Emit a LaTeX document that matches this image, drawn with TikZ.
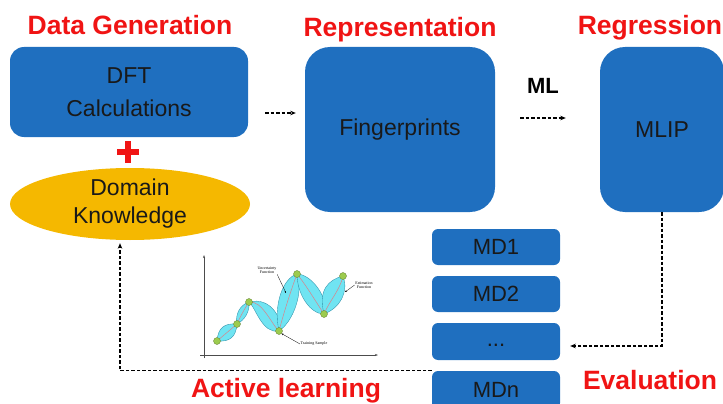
\documentclass[tikz,border=0pt]{standalone}
\usepackage{fontspec}
\setmainfont{Liberation Sans}
\newfontfamily\plotfont{Liberation Serif}
\usetikzlibrary{shapes.geometric,arrows.meta,positioning,calc}
\definecolor{boxblue}{HTML}{1F6FBF}
\definecolor{knowgold}{HTML}{F5B800}
\definecolor{headred}{HTML}{F01414}
\definecolor{bandcyan}{HTML}{70E4F2}
\definecolor{bandedge}{HTML}{2F8FA8}
\definecolor{estline}{HTML}{D9838A}
\definecolor{dotgreen}{HTML}{9CCB4E}

\tikzset{
  stage/.style={fill=boxblue, rounded corners=14pt, inner sep=0pt, align=center,
    text=black!90, font=\fontsize{23}{33}\selectfont},
  mdbox/.style={fill=boxblue, rounded corners=6pt, minimum width=128pt,
    minimum height=36pt, inner sep=0pt, text=black!90, font=\fontsize{22}{26}\selectfont},
  heading/.style={text=headred, inner sep=0pt, anchor=base,
    font=\fontsize{26.5}{30}\selectfont\bfseries},
  flow/.style={dash pattern=on 3.5pt off 2pt, line width=1.3pt, -{Stealth[length=5.5pt,width=4.5pt]}},
  band/.style={fill=bandcyan, draw=bandedge, line width=0.35pt},
  sample/.style={circle, fill=dotgreen, draw=dotgreen!60!black, line width=0.3pt,
    inner sep=0pt, minimum size=7pt},
  tiny/.style={font=\plotfont\fontsize{4}{4.6}\selectfont, align=center, inner sep=0.5pt},
  pointer/.style={line width=0.3pt, -{Stealth[length=2pt,width=1.6pt]}},
}

\begin{document}
\begin{tikzpicture}[x=1pt, y=-1pt]
  \useasboundingbox (0,0) rectangle (723,404);
  % headings
  \node[heading] (hdata) at (130,35) {Data Generation};
  \node[heading] (hrep)  at (400,37) {Representation};
  \node[heading] (hreg)  at (650,35) {Regression};
  \node[heading] (heval) at (650,389) {Evaluation};
  \node[heading] (hact)  at (286,397) {Active learning};
  \node[font=\fontsize{22}{26}\selectfont\bfseries] (ml) at (543,86) {ML};
  % main stages
  \node[stage, minimum width=238pt, minimum height=90pt] (dft) at (129,92) {DFT\\Calculations};
  \node[stage, rounded corners=25pt, minimum width=190pt, minimum height=165pt] (fp) at (400,129.5) {Fingerprints};
  \node[stage, rounded corners=25pt, minimum width=124pt, minimum height=165pt] (mlip) at (662,129.5) {MLIP};
  \node[ellipse, fill=knowgold, minimum width=240pt, minimum height=72pt, inner sep=0pt,
    align=center, text=black!90, font=\fontsize{23}{28}\selectfont] (dk) at (130,204) {Domain\\Knowledge};
  % plus sign
  \draw[headred, line width=6pt] (117,152) -- (139,152) (128,141) -- (128,163);
  % MD runs
  \node[mdbox] (md1)  at (496,247) {MD1};
  \node[mdbox] (md2)  at (496,294) {MD2};
  \node[mdbox, minimum height=37pt] (dots) at (496,341.5) {\raisebox{-9pt}{...}};
  \node[mdbox, minimum height=38pt] (mdn)  at (496,390) {MDn};
  % connectors
  \draw[flow, shorten <=17pt, shorten >=9pt] (dft.east |- 0,113) -- (fp.west |- 0,113);
  \draw[flow, shorten <=25pt, shorten >=34pt] (fp.east |- 0,118) -- (mlip.west |- 0,118);
  \draw[flow, shorten >=10pt] (mlip.south) |- ([yshift=-4.5pt]dots.east);
  \draw[flow, shorten >=3pt] (mdn.north west) -| ([xshift=-10pt]dk.south);
  % active learning sketch: axes
  \draw[black!70, line width=0.5pt, -{Stealth[length=3pt,width=2pt]}] (204,358) -- (204,255);
  \draw[black!70, line width=0.5pt, -{Stealth[length=3pt,width=2pt]}] (200,355) -- (378,355);
  % uncertainty bands
  \filldraw[band] (217,341) .. controls (230,342) and (236,337) .. (237,324)
    .. controls (224,323) and (218,328) .. (217,341) -- cycle;
  \filldraw[band] (237,324) .. controls (245,320) and (250,311) .. (249,302)
    .. controls (240,305) and (235,314) .. (237,324) -- cycle;
  \filldraw[band] (249,302) .. controls (272,296) and (284,322) .. (279,331)
    .. controls (262,334) and (256,308) .. (249,302) -- cycle;
  \filldraw[band] (279,331) .. controls (273,305) and (283,278) .. (297,274)
    .. controls (304,292) and (293,322) .. (279,331) -- cycle;
  \filldraw[band] (297,274) .. controls (297,294) and (310,314) .. (324,314)
    .. controls (330,300) and (312,274) .. (297,274) -- cycle;
  \filldraw[band] (324,314) .. controls (318,290) and (328,280) .. (343,276)
    .. controls (349,292) and (340,308) .. (324,314) -- cycle;
  % estimation function
  \draw[estline, line width=0.5pt] (217,341) .. controls (224,335) and (230,330) .. (237,324)
    .. controls (240,317) and (245,308) .. (249,302)
    .. controls (262,300) and (272,325) .. (279,331)
    .. controls (284,312) and (291,290) .. (297,274)
    .. controls (306,285) and (316,302) .. (324,314)
    .. controls (330,300) and (340,290) .. (343,276);
  % training samples
  \node[sample] (s1) at (217,341) {};
  \node[sample] (s2) at (237,324) {};
  \node[sample] (s3) at (249,302) {};
  \node[sample] (s4) at (279,331) {};
  \node[sample] (s5) at (297,274) {};
  \node[sample] (s6) at (324,314) {};
  \node[sample] (s7) at (343,276) {};
  % sketch labels
  \node[tiny] (unc) at (267,270) {Uncertainty\\Function};
  \node[tiny] (est) at (364,285) {Estimation\\Function};
  \node[tiny] (trs) at (314,344) {Training Sample};
  \coordinate (uncend) at (286,293);
  \coordinate (estend) at (345,292);
  \draw[pointer] (unc.south east) -- (uncend);
  \draw[pointer] (est.west) -- (estend);
  \draw[pointer] (trs.west) -- (s4.south east);
\end{tikzpicture}
\end{document}
